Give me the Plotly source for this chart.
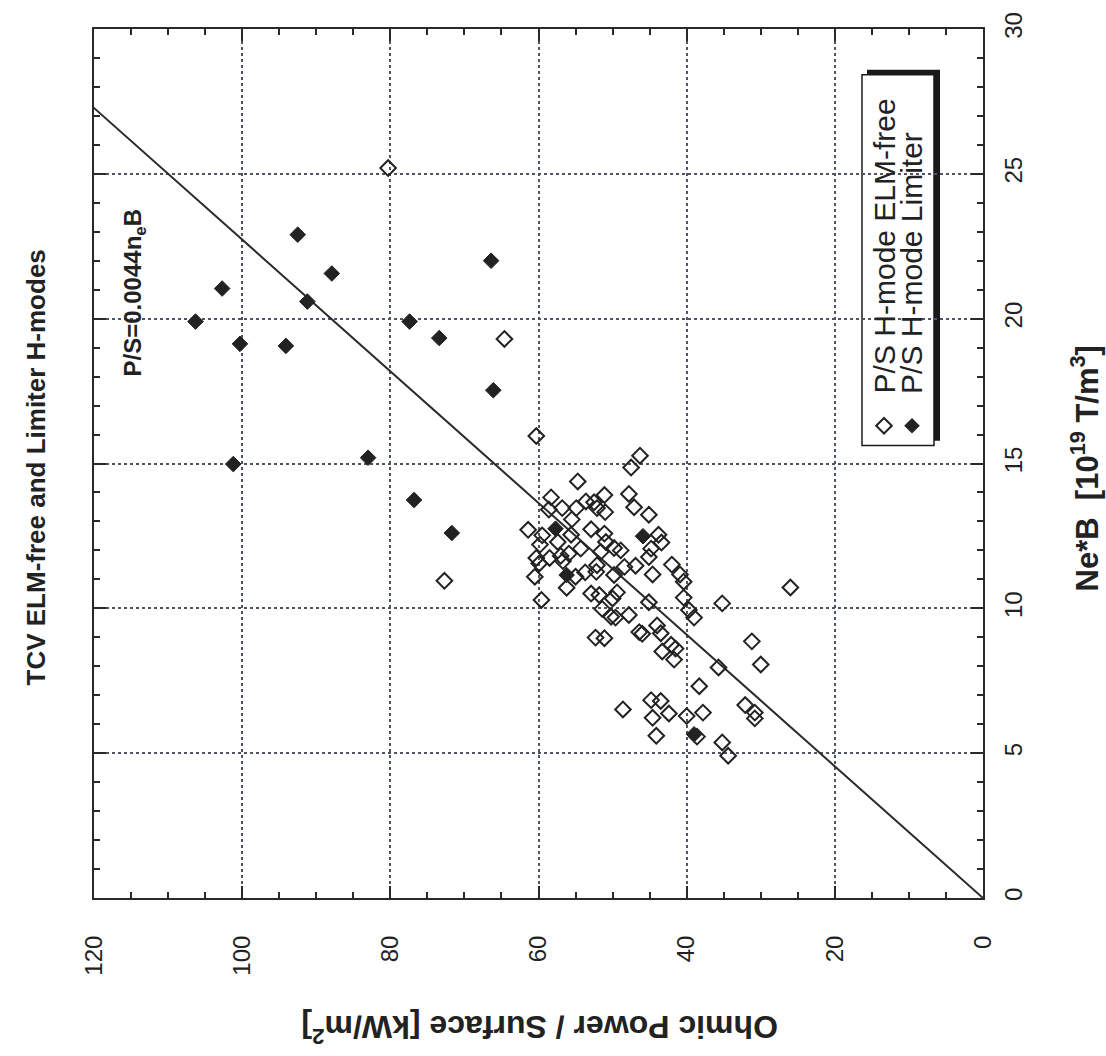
import plotly.graph_objects as go

# ---------------- data ----------------
# ELM-free H-mode: Ohmic power / surface [kW/m^2] vs Ne*B [1e19 T/m^3]
elm_free_power = [80.3, 64.6, 60.3, 72.7, 26.0, 46.3, 47.5, 54.7, 58.3, 58.6,
                  56.8, 54.9, 53.6, 52.5, 51.1, 52.1, 51.0, 47.8, 47.1, 45.1,
                  55.5, 61.4, 59.5, 59.8, 57.4, 55.6, 52.9, 51.1, 50.9, 49.8,
                  48.9, 54.3, 55.9, 57.0, 58.5, 60.3, 59.9, 56.7, 51.6, 52.1,
                  52.2, 53.7, 55.0, 56.2, 60.5, 49.8, 48.4, 46.9, 45.1, 44.6,
                  43.8, 43.4, 44.8, 42.0, 40.9, 40.4, 40.4, 39.7, 39.0, 52.9,
                  51.8, 49.4, 50.0, 45.1, 51.4, 50.2, 49.6, 47.8, 59.6, 35.2,
                  44.0, 43.5, 46.4, 46.0, 52.3, 51.1, 42.1, 43.3, 41.5, 41.7,
                  31.2, 30.0, 35.7, 38.3, 48.6, 44.8, 43.5, 44.6, 42.4, 40.0,
                  37.8, 44.1, 38.6, 32.1, 30.8, 30.8, 35.2, 34.4]
elm_free_neb = [25.2, 19.3, 15.95, 10.95, 10.72, 15.27, 14.86, 14.38, 13.83, 13.41,
                13.46, 13.46, 13.69, 13.66, 13.91, 13.46, 13.32, 13.95, 13.49, 13.23,
                13.07, 12.71, 12.52, 12.2, 12.29, 12.54, 12.73, 12.58, 12.29, 12.08,
                12.0, 12.06, 11.89, 11.81, 11.74, 11.74, 11.55, 11.63, 11.95, 11.49,
                11.26, 11.24, 11.09, 10.71, 11.09, 11.15, 11.43, 11.47, 11.77, 11.17,
                12.54, 12.27, 12.06, 11.51, 11.17, 10.92, 10.37, 9.94, 9.68, 10.51,
                10.46, 10.55, 10.34, 10.21, 9.98, 9.71, 9.68, 9.77, 10.29, 10.17,
                9.41, 9.14, 9.18, 9.12, 8.99, 8.97, 8.74, 8.51, 8.61, 8.23,
                8.86, 8.06, 7.96, 7.31, 6.51, 6.83, 6.80, 6.22, 6.37, 6.28,
                6.40, 5.60, 5.57, 6.66, 6.40, 6.20, 5.37, 4.91]

# Limiter H-mode
limiter_power = [92.5, 102.7, 87.9, 91.2, 106.3, 77.4, 66.4, 73.4, 100.3, 94.1,
                 66.1, 101.2, 83.0, 76.8, 71.7, 57.7, 45.9, 56.2, 39.0]
limiter_neb = [22.9, 21.04, 21.56, 20.59, 19.9, 19.9, 22.0, 19.33, 19.13, 19.06,
               17.53, 14.98, 15.2, 13.74, 12.6, 12.75, 12.49, 11.15, 5.65]

# scaling law P/S = 0.0044 n_e B  (in these units: 4.4 kW/m^2 per 1e19 T/m^3)
fit_coef = 4.4
fit_neb = [0, 30]

power_ticks = [0, 20, 40, 60, 80, 100, 120]
neb_ticks = [0, 5, 10, 15, 20, 25, 30]

legend_labels = ["P/S H-mode ELM-free", "P/S H-mode Limiter"]

# ---------------- figure ----------------
FONT = "Liberation Sans, Arial, Helvetica, sans-serif"
INK = "#222222"
GRID = "#4d5563"

fig = go.Figure()

fig.add_trace(go.Scatter(
    x=[fit_coef * v for v in fit_neb], y=fit_neb, mode="lines",
    line=dict(color="#2a2a2a", width=2), showlegend=False, hoverinfo="skip"))

fig.add_trace(go.Scatter(
    x=elm_free_power, y=elm_free_neb, mode="markers", name=legend_labels[0],
    marker=dict(symbol="diamond-open", size=12, color=INK, line=dict(width=2, color=INK)),
    showlegend=False))

fig.add_trace(go.Scatter(
    x=limiter_power, y=limiter_neb, mode="markers", name=legend_labels[1],
    marker=dict(symbol="diamond", size=12, color=INK, line=dict(width=1, color=INK)),
    showlegend=False))

# plot area in pixels: x 94..983, y 24..898
L, R, T, B = 94, 983, 24, 898
W, H = R - L, B - T


def px(xp):
    return (xp - L) / W


def py(yp):
    return (B - yp) / H


# legend markers drawn on an overlay axis spanning the plot area (0..1)
fig.add_trace(go.Scatter(
    x=[px(884)], y=[py(423)], xaxis="x2", yaxis="y2", mode="markers",
    marker=dict(symbol="diamond-open", size=12, color=INK, line=dict(width=2, color=INK)),
    showlegend=False, hoverinfo="skip"))
fig.add_trace(go.Scatter(
    x=[px(912)], y=[py(423)], xaxis="x2", yaxis="y2", mode="markers",
    marker=dict(symbol="diamond", size=12, color=INK),
    showlegend=False, hoverinfo="skip"))

axis_common = dict(
    showline=True, linecolor="#2a2a2a", linewidth=2, mirror="ticks",
    ticks="inside", tickcolor="#2a2a2a", tickwidth=1.5, ticklen=12,
    showgrid=True, gridcolor=GRID, gridwidth=1.5, griddash="dot",
    zeroline=False, tickangle=-90,
    tickfont=dict(family=FONT, size=24, color=INK),
)

fig.update_layout(
    width=1106, height=1056,
    margin=dict(l=L, r=1106 - R, t=T, b=1056 - B),
    paper_bgcolor="white", plot_bgcolor="white",
    showlegend=False,
    xaxis=dict(range=[120, 0], tickvals=power_ticks, side="bottom",
               minor=dict(dtick=5, ticks="inside", ticklen=6, tickcolor="#2a2a2a", showgrid=False),
               ticklabelstandoff=26, **axis_common),
    yaxis=dict(range=[0, 30], tickvals=neb_ticks, side="right",
               minor=dict(dtick=1, ticks="inside", ticklen=6, tickcolor="#2a2a2a", showgrid=False),
               ticklabelstandoff=8, **axis_common),
    xaxis2=dict(range=[0, 1], overlaying="x", visible=False, fixedrange=True),
    yaxis2=dict(range=[0, 1], overlaying="y", visible=False, fixedrange=True),
)

shapes = [
    # legend shadow then box (between grid and traces)
    dict(type="rect", xref="paper", yref="paper", x0=px(867), x1=px(940), y0=py(438), y1=py(65),
         fillcolor="#1a1a1a", line=dict(width=0), layer="between"),
    dict(type="rect", xref="paper", yref="paper", x0=px(862), x1=px(934), y0=py(443), y1=py(70),
         fillcolor="white", line=dict(color="#1a1a1a", width=1.5), layer="between"),
]
fig.update_layout(shapes=shapes)

ann = [
    dict(text="<b>TCV ELM-free and Limiter H-modes</b>", x=px(36), y=py(465), textangle=-90,
         font=dict(family=FONT, size=26, color=INK)),
    dict(text="<b>Ne*B  [10<sup>19</sup> T/m<sup>3</sup>]</b>", x=px(1085), y=py(466), textangle=-90,
         font=dict(family=FONT, size=31, color=INK)),
    dict(text="<b>Ohmic Power / Surface [kW/m<sup>2</sup>]</b>", x=px(540), y=py(1030), textangle=180,
         font=dict(family=FONT, size=32, color=INK)),
    dict(text="<b>P/S=0.0044n<sub>e</sub>B</b>", x=px(134), y=py(290), textangle=-90,
         font=dict(family=FONT, size=24, color=INK)),
    dict(text=legend_labels[0], x=px(884), y=py(393), yanchor="bottom", textangle=-90,
         font=dict(family=FONT, size=30, color=INK)),
    dict(text=legend_labels[1], x=px(912), y=py(393), yanchor="bottom", textangle=-90,
         font=dict(family=FONT, size=30, color=INK)),
]
for a in ann:
    a.setdefault("xanchor", "center")
    a.setdefault("yanchor", "middle")
    a.update(xref="paper", yref="paper", showarrow=False)
fig.update_layout(annotations=ann)

fig.write_html("out.html")
